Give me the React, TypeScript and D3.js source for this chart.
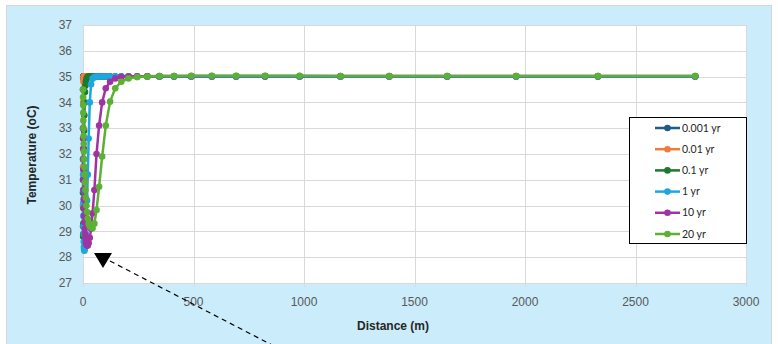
import React from "react";
import * as d3 from "d3";

// Distance from the well (m), shared by every time series
const distance = [
  0, 0.4, 0.8, 1.2, 1.6, 2.1, 2.7, 3.4, 4.2, 5.1, 6.2, 7.5, 9.1, 10.8, 12.9, 15.3,
  18.2, 21.6, 25.7, 30.6, 36.4, 43.3, 51.5, 61.2, 72.8, 86.6, 103, 122.5, 146, 173,
  206, 245, 291, 346, 412, 490, 583, 693, 824, 980, 1165, 1386, 1648, 1960, 2330, 2770,
];

// Temperature (oC) for each elapsed time
const t0001 = [
  31.0, 34.5, 34.95, 35, 35, 35, 35, 35, 35, 35, 35, 35, 35, 35, 35, 35,
  35, 35, 35, 35, 35, 35, 35, 35, 35, 35, 35, 35, 35, 35,
  35, 35, 35, 35, 35, 35, 35, 35, 35, 35, 35, 35, 35, 35, 35, 35,
];
const t001 = [
  30.0, 31.5, 33.0, 34.0, 34.5, 34.8, 34.93, 35, 35, 35, 35, 35, 35, 35, 35, 35,
  35, 35, 35, 35, 35, 35, 35, 35, 35, 35, 35, 35, 35, 35,
  35, 35, 35, 35, 35, 35, 35, 35, 35, 35, 35, 35, 35, 35, 35, 35,
];
const t01 = [
  30.5, 29.2, 28.8, 28.9, 29.3, 29.9, 30.6, 31.4, 32.2, 32.9, 33.5, 34.0, 34.4, 34.65, 34.8, 34.9,
  34.95, 35, 35, 35, 35, 35, 35, 35, 35, 35, 35, 35, 35, 35,
  35, 35, 35, 35, 35, 35, 35, 35, 35, 35, 35, 35, 35, 35, 35, 35,
];
const t1 = [
  31.8, 31.2, 30.6, 30.1, 29.6, 29.2, 28.9, 28.6, 28.4, 28.3, 28.25, 28.3, 28.4, 28.6, 28.9, 29.4,
  30.2, 31.2, 32.6, 34.0, 34.7, 34.92, 34.98, 35, 35, 35, 35, 35, 35, 35,
  35, 35, 35, 35, 35, 35, 35, 35, 35, 35, 35, 35, 35, 35, 35, 35,
];
const t10 = [
  33.0, 32.6, 32.2, 31.8, 31.4, 31.0, 30.6, 30.25, 29.9, 29.6, 29.35, 29.1, 28.9, 28.75, 28.6, 28.5,
  28.45, 28.45, 28.55, 28.75, 29.1, 29.7, 30.6, 32.0, 33.1, 34.0, 34.55, 34.8, 34.93, 34.98,
  35, 35.01, 35.01, 35.02, 35.02, 35.02, 35.02, 35.02, 35.02, 35.02, 35.02, 35.02, 35.02, 35.02, 35.02, 35.02,
];
const t20 = [
  34.5, 34.2, 33.9, 33.6, 33.3, 33.0, 32.7, 32.4, 32.1, 31.8, 31.5, 31.2, 30.9, 30.6, 30.3, 30.0,
  29.75, 29.5, 29.3, 29.2, 29.15, 29.12, 29.3, 29.83, 30.73, 31.9, 33.1, 34.03, 34.55, 34.8,
  34.93, 34.98, 35.0, 35.02, 35.02, 35.03, 35.03, 35.03, 35.03, 35.03, 35.02, 35.02, 35.02, 35.02, 35.02, 35.02,
];

const seriesNames = ["0.001 yr", "0.01 yr", "0.1 yr", "1 yr", "10 yr", "20 yr"];
const seriesValues = [t0001, t001, t01, t1, t10, t20];
const seriesColors = ["#1f5c8a", "#f07c3a", "#1c7a2e", "#1ba7df", "#a033a4", "#5ab134"];

const xTicks = [0, 500, 1000, 1500, 2000, 2500, 3000];
const yTicks = [27, 28, 29, 30, 31, 32, 33, 34, 35, 36, 37];

const W = 778;
const H = 344;
const plot = { left: 83, right: 746, top: 25, bottom: 283 };

export default function App() {
  const x = d3.scaleLinear().domain([0, 3000]).range([plot.left, plot.right]);
  const y = d3.scaleLinear().domain([27, 37]).range([plot.bottom, plot.top]);
  const line = d3
    .line<[number, number]>()
    .x((d) => x(d[0]))
    .y((d) => y(d[1]));

  const tickFont = "'Liberation Sans', Arial, sans-serif";
  const legendX = 629;
  const legendY = 117;
  const legendStep = 21.2;

  return (
    <svg
      width={W}
      height={H}
      style={{ position: "fixed", left: 0, top: 0, display: "block" }}
    >
      <rect x={0} y={0} width={W} height={H} fill="#ffffff" />
      <rect x={6.5} y={5.5} width={765} height={345} fill="#cbecfa" stroke="#d6d6d6" strokeWidth={1} />
      <rect
        x={plot.left}
        y={plot.top}
        width={plot.right - plot.left}
        height={plot.bottom - plot.top}
        fill="#ffffff"
      />

      {/* grid */}
      {yTicks.map((t) => (
        <line
          key={"gy" + t}
          x1={plot.left}
          x2={plot.right}
          y1={Math.round(y(t)) + 0.5}
          y2={Math.round(y(t)) + 0.5}
          stroke="#d9d9d9"
          strokeWidth={1}
        />
      ))}
      {xTicks.map((t) => (
        <line
          key={"gx" + t}
          x1={Math.round(x(t)) + 0.5}
          x2={Math.round(x(t)) + 0.5}
          y1={plot.top}
          y2={plot.bottom + 4}
          stroke="#d9d9d9"
          strokeWidth={1}
        />
      ))}

      {/* tick labels */}
      {yTicks.map((t) => (
        <text
          key={"ly" + t}
          x={72}
          y={y(t)}
          dy="0.35em"
          textAnchor="end"
          fontFamily={tickFont}
          fontSize={12}
          fill="#595959"
        >
          {t}
        </text>
      ))}
      {xTicks.map((t) => (
        <text
          key={"lx" + t}
          x={x(t)}
          y={306}
          textAnchor="middle"
          fontFamily={tickFont}
          fontSize={12}
          fill="#595959"
        >
          {t}
        </text>
      ))}

      {/* axis titles */}
      <text
        x={393}
        y={330}
        textAnchor="middle"
        fontFamily={tickFont}
        fontSize={12}
        fontWeight="bold"
        fill="#262626"
      >
        Distance (m)
      </text>
      <text
        transform="translate(36,155) rotate(-90)"
        textAnchor="middle"
        fontFamily={tickFont}
        fontSize={12}
        fontWeight="bold"
        fill="#262626"
      >
        Temperature (oC)
      </text>

      {/* series */}
      {seriesValues.map((vals, i) => {
        const pts: [number, number][] = distance.map((d, k) => [d, vals[k]]);
        return (
          <g key={"s" + i}>
            <path
              d={line(pts) || ""}
              fill="none"
              stroke={seriesColors[i]}
              strokeWidth={2.5}
              strokeLinejoin="round"
            />
            {pts.map((p, k) => (
              <circle key={k} cx={x(p[0])} cy={y(p[1])} r={3.3} fill={seriesColors[i]} />
            ))}
          </g>
        );
      })}

      {/* legend */}
      <rect
        x={legendX + 0.5}
        y={legendY + 0.5}
        width={117}
        height={126}
        fill="#ffffff"
        stroke="#000000"
        strokeWidth={1}
      />
      {seriesNames.map((name, i) => {
        const cy = 128 + i * legendStep;
        return (
          <g key={"lg" + i}>
            <line x1={655} x2={680} y1={cy} y2={cy} stroke={seriesColors[i]} strokeWidth={2.5} />
            <circle cx={667.5} cy={cy} r={3.3} fill={seriesColors[i]} />
            <text
              x={682}
              y={cy}
              dy="0.35em"
              fontFamily="Lato, 'Open Sans', sans-serif"
              fontSize={10.5}
              fill="#262626"
            >
              {name}
            </text>
          </g>
        );
      })}

      {/* pointer */}
      <line
        x1={110}
        y1={261}
        x2={272}
        y2={345}
        stroke="#000000"
        strokeWidth={1.2}
        strokeDasharray="5,4"
      />
      <path d="M94,253 L112,253 L103,268 Z" fill="#000000" />
    </svg>
  );
}
